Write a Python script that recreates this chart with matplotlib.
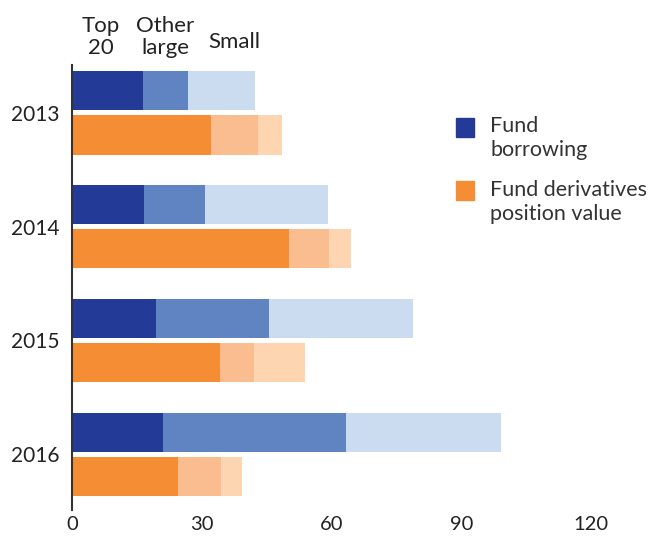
import numpy as np
import matplotlib.pyplot as plt

plt.rcParams['font.family'] = ['Lato', 'DejaVu Sans']

anos = ["2013", "2014", "2015", "2016"]

# Fund borrowing, por tamanho do fundo
borrow_top20 = [16.4, 16.6, 19.4, 21.0]
borrow_other = [10.5, 14.1, 26.1, 42.3]
borrow_small = [15.3, 28.5, 33.3, 36.0]

# Fund derivatives position value
deriv_top20 = [32.2, 50.2, 34.2, 24.4]
deriv_other = [10.7, 9.2, 7.9, 10.1]
deriv_small = [5.6, 5.1, 11.8, 4.9]

tamanhos = ["Top\n20", "Other\nlarge", "Small"]
ticks_x = [0, 30, 60, 90, 120]

azuis = ["#233A96", "#6083C1", "#CBDCF0"]
laranjas = ["#F48D34", "#F9BD8F", "#FDD6B1"]

fig = plt.figure(figsize=(6.62, 5.38), dpi=100)
ax = fig.add_axes([72 / 662, 28 / 538, (591 - 72) / 662, (510 - 65) / 538])

y = np.arange(len(anos))
h = 0.343
off = 0.195

esq = np.zeros(len(anos))
for vals, cor in zip([borrow_top20, borrow_other, borrow_small], azuis):
    ax.barh(y - off, vals, height=h, left=esq, color=cor, linewidth=0)
    esq += np.array(vals)

esq = np.zeros(len(anos))
for vals, cor in zip([deriv_top20, deriv_other, deriv_small], laranjas):
    ax.barh(y + off, vals, height=h, left=esq, color=cor, linewidth=0)
    esq += np.array(vals)

ax.set_ylim(3.49, -0.42)
ax.set_xlim(0, 120)
ax.set_yticks(y)
ax.set_yticklabels(anos, fontsize=15, color="#222222")
ax.set_xticks(ticks_x)
ax.set_xticklabels([str(t) for t in ticks_x], fontsize=14.5, color="#222222")
ax.tick_params(axis="both", length=0)
ax.tick_params(axis="x", pad=4)
ax.tick_params(axis="y", pad=9)

for s in ["top", "right", "bottom"]:
    ax.spines[s].set_visible(False)
ax.spines["left"].set_color("#333333")
ax.spines["left"].set_linewidth(1.5)

# Rotulos dos tamanhos acima das barras
pos_rotulos = [(6.7, -0.665), (21.5, -0.665), (37.5, -0.625)]
for txt, (xx, yy) in zip(tamanhos, pos_rotulos):
    ax.text(xx, yy, txt, ha="center", va="center", fontsize=16,
            color="#222222", linespacing=1.15, clip_on=False)

# Legenda
fig.patches.append(plt.Rectangle((456 / 662, 1 - 137 / 538), 18 / 662, 19 / 538,
                                 transform=fig.transFigure, color=azuis[0]))
fig.patches.append(plt.Rectangle((456 / 662, 1 - 200 / 538), 18 / 662, 19 / 538,
                                 transform=fig.transFigure, color=laranjas[0]))
fig.text(490 / 662, 1 - 138 / 538, "Fund\nborrowing", fontsize=15.5,
         color="#333333", va="center", ha="left", linespacing=1.2)
fig.text(490 / 662, 1 - 202 / 538, "Fund derivatives\nposition value", fontsize=15.5,
         color="#333333", va="center", ha="left", linespacing=1.2)

plt.savefig("out.png", dpi=100)
